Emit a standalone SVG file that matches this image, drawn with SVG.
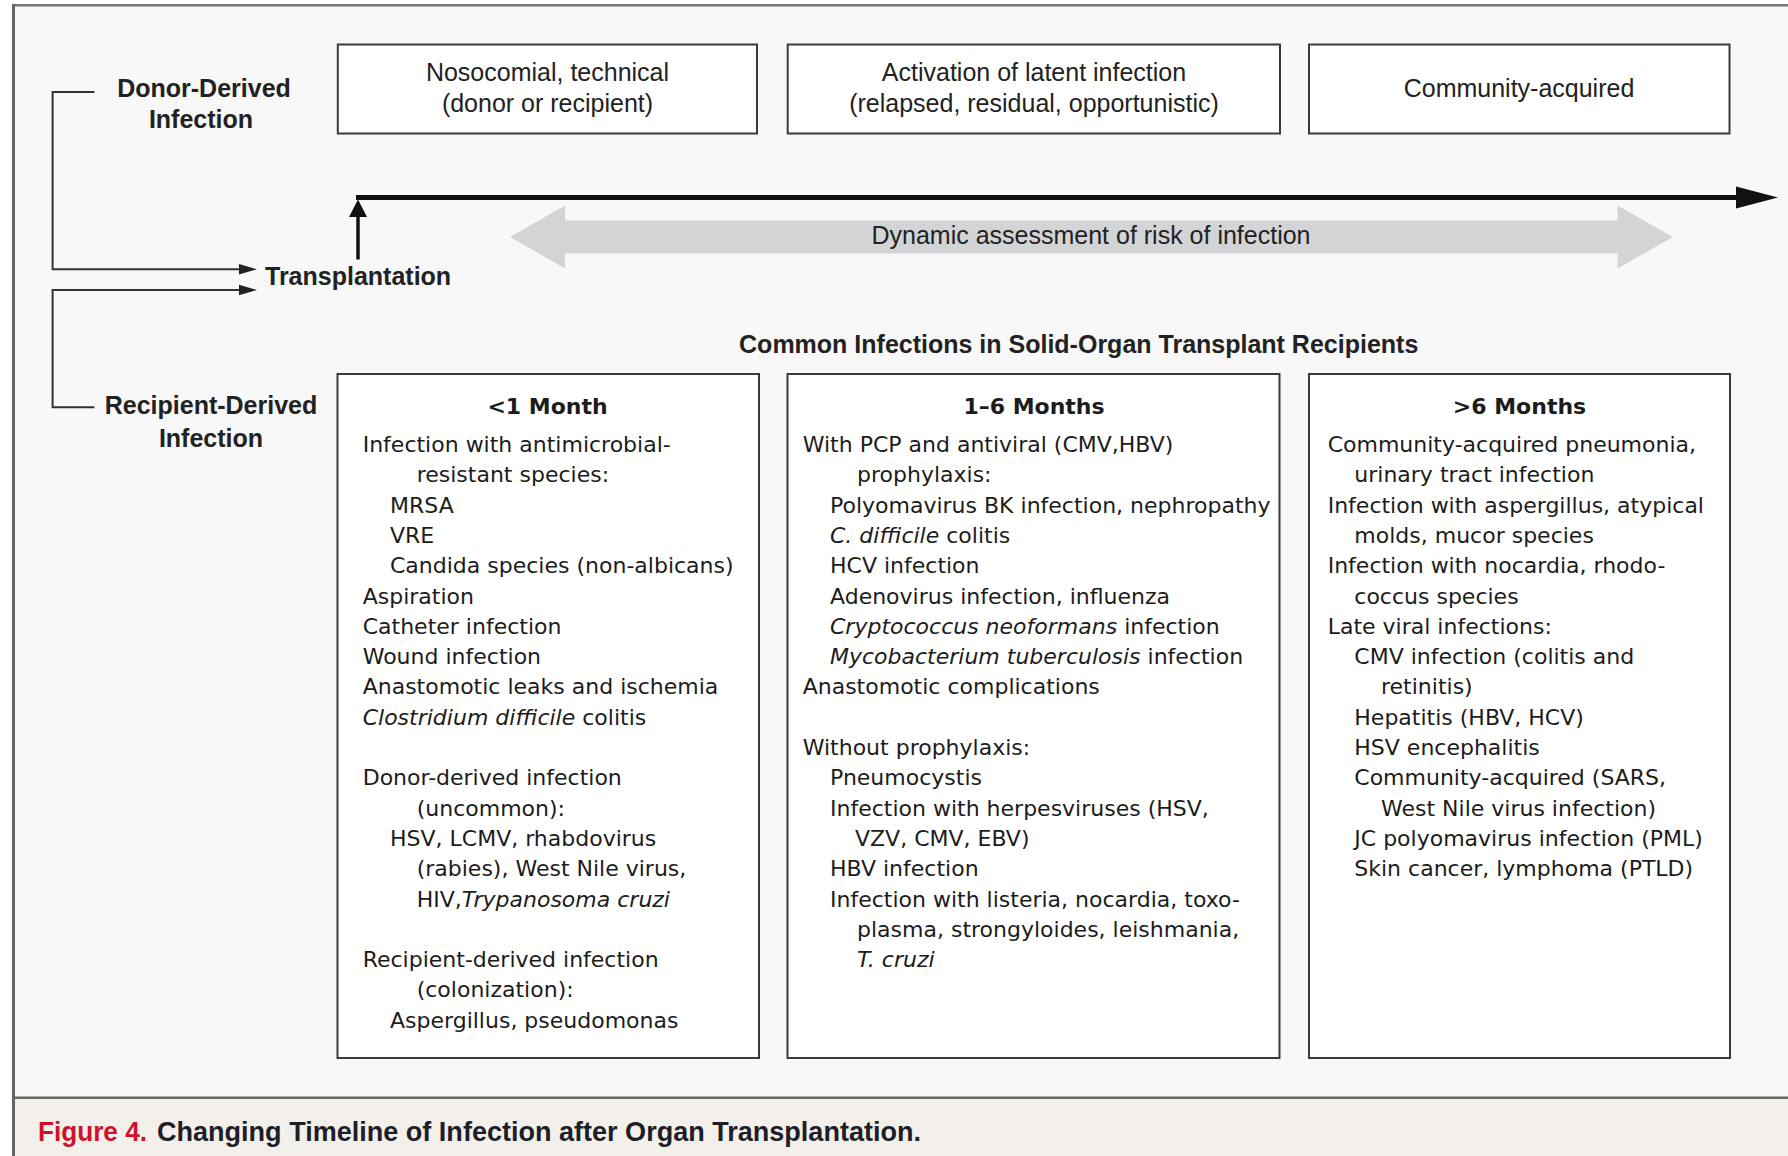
<svg xmlns="http://www.w3.org/2000/svg" width="1788" height="1156" viewBox="0 0 1788 1156">
<style>
.box{fill:#ffffff;stroke:#3a3a3a;stroke-width:2}
.lbl{font-family:"Liberation Sans",Arial,sans-serif;font-size:25px;fill:#222}
.bl{font-family:"Liberation Sans",Arial,sans-serif;font-size:25px;font-weight:bold;fill:#222}
.hd{font-family:"DejaVu Sans",Verdana,sans-serif;font-size:22px;font-weight:bold;fill:#1c1c1c;text-anchor:middle}
.bd{font-family:"DejaVu Sans",Verdana,sans-serif;font-size:22px;fill:#1c1c1c}
.it{font-style:italic}
.mid{text-anchor:middle}
.con{fill:none;stroke:#333;stroke-width:2}
</style>
<rect x="0" y="0" width="1788" height="1156" fill="#ffffff"/>
<g id="frame">
<rect x="13.5" y="5.3" width="1780" height="1092.5" fill="#f8f8f8"/>
<rect x="13.5" y="1097.8" width="1780" height="60" fill="#f3f0eb"/>
<line x1="12" y1="5.3" x2="1788" y2="5.3" stroke="#777" stroke-width="2.5"/>
<line x1="13.5" y1="4" x2="13.5" y2="1156" stroke="#666" stroke-width="3"/>
<line x1="13.5" y1="1097.8" x2="1788" y2="1097.8" stroke="#666" stroke-width="2.5"/>
</g>
<g id="donor-label">
<text class="bl mid" x="204" y="97">Donor-Derived</text>
<text class="bl mid" x="201" y="128">Infection</text>
</g>
<g id="recipient-label">
<text class="bl mid" x="211" y="414">Recipient-Derived</text>
<text class="bl mid" x="211" y="446.5">Infection</text>
</g>
<g id="transplantation">
<text class="bl" x="265" y="285">Transplantation</text>
</g>
<g id="phase-nosocomial">
<rect class="box" x="337.8" y="44.5" width="419.2" height="89"/>
<text class="lbl mid" x="547.5" y="81">Nosocomial, technical</text>
<text class="lbl mid" x="547.5" y="112">(donor or recipient)</text>
</g>
<g id="phase-latent">
<rect class="box" x="787.7" y="44.5" width="492.3" height="89"/>
<text class="lbl mid" x="1034" y="81">Activation of latent infection</text>
<text class="lbl mid" x="1034" y="112">(relapsed, residual, opportunistic)</text>
</g>
<g id="phase-community">
<rect class="box" x="1309" y="44.5" width="420.5" height="89"/>
<text class="lbl mid" x="1519" y="97">Community-acquired</text>
</g>
<g id="risk-arrow">
<polygon points="510,237 565,205.5 565,220.5 1617.5,220.5 1617.5,205.5 1673,237 1617.5,268.5 1617.5,253.5 565,253.5 565,268.5" fill="#d3d4d6"/>
<text class="lbl mid" x="1091" y="244">Dynamic assessment of risk of infection</text>
</g>
<g id="section-title">
<text class="bl mid" x="1078.7" y="353">Common Infections in Solid-Organ Transplant Recipients</text>
</g>
<g id="connectors">
<path class="con" d="M94.4 92 H52.6 V269.3 H242"/>
<polygon points="239,264 257,269.3 239,274.6" fill="#222"/>
<path class="con" d="M94.4 407.3 H52.6 V290 H242"/>
<polygon points="239,284.7 257,290 239,295.3" fill="#222"/>
<line x1="358" y1="259.5" x2="358" y2="214" stroke="#111" stroke-width="3.5"/>
<polygon points="349,217 358,199.5 367,217" fill="#111"/>
<line x1="356" y1="197.5" x2="1740" y2="197.5" stroke="#111" stroke-width="5"/>
<polygon points="1736,186.5 1778,197.5 1736,208.5" fill="#111"/>
</g>
<g id="period-1">
<rect class="box" x="337.5" y="374" width="421.5" height="684"/>
<text class="hd" x="547.5" y="414">&lt;1 Month</text>
<text class="bd" x="362.7" y="452">Infection with antimicrobial-</text>
<text class="bd" x="416.7" y="482.3">resistant species:</text>
<text class="bd" x="390" y="512.6">MRSA</text>
<text class="bd" x="390" y="542.9">VRE</text>
<text class="bd" x="390" y="573.2">Candida species (non-albicans)</text>
<text class="bd" x="362.7" y="603.5">Aspiration</text>
<text class="bd" x="362.7" y="633.8">Catheter infection</text>
<text class="bd" x="362.7" y="664.1">Wound infection</text>
<text class="bd" x="362.7" y="694.4">Anastomotic leaks and ischemia</text>
<text class="bd" x="362.7" y="724.7"><tspan class="it">Clostridium difficile</tspan> colitis</text>
<text class="bd" x="362.7" y="785.3">Donor-derived infection</text>
<text class="bd" x="416.7" y="815.6">(uncommon):</text>
<text class="bd" x="390" y="845.9">HSV, LCMV, rhabdovirus</text>
<text class="bd" x="416.7" y="876.2">(rabies), West Nile virus,</text>
<text class="bd" x="416.7" y="906.5">HIV,<tspan class="it">Trypanosoma cruzi</tspan></text>
<text class="bd" x="362.7" y="967.1">Recipient-derived infection</text>
<text class="bd" x="416.7" y="997.4">(colonization):</text>
<text class="bd" x="390" y="1027.7">Aspergillus, pseudomonas</text>
</g>
<g id="period-2">
<rect class="box" x="787.5" y="374" width="492" height="684"/>
<text class="hd" x="1034" y="414">1–6 Months</text>
<text class="bd" x="802.7" y="452">With PCP and antiviral (CMV,HBV)</text>
<text class="bd" x="857" y="482.3">prophylaxis:</text>
<text class="bd" x="830" y="512.6">Polyomavirus BK infection, nephropathy</text>
<text class="bd" x="830" y="542.9"><tspan class="it">C. difficile</tspan> colitis</text>
<text class="bd" x="830" y="573.2">HCV infection</text>
<text class="bd" x="830" y="603.5">Adenovirus infection, influenza</text>
<text class="bd" x="830" y="633.8"><tspan class="it">Cryptococcus neoformans</tspan> infection</text>
<text class="bd" x="830" y="664.1"><tspan class="it">Mycobacterium tuberculosis</tspan> infection</text>
<text class="bd" x="802.7" y="694.4">Anastomotic complications</text>
<text class="bd" x="802.7" y="755">Without prophylaxis:</text>
<text class="bd" x="830" y="785.3">Pneumocystis</text>
<text class="bd" x="830" y="815.6">Infection with herpesviruses (HSV,</text>
<text class="bd" x="855" y="845.9">VZV, CMV, EBV)</text>
<text class="bd" x="830" y="876.2">HBV infection</text>
<text class="bd" x="830" y="906.5">Infection with listeria, nocardia, toxo-</text>
<text class="bd" x="857" y="936.8">plasma, strongyloides, leishmania,</text>
<text class="bd" x="857" y="967.1"><tspan class="it">T. cruzi</tspan></text>
</g>
<g id="period-3">
<rect class="box" x="1309" y="374" width="421" height="684"/>
<text class="hd" x="1519.5" y="414">&gt;6 Months</text>
<text class="bd" x="1327.7" y="452">Community-acquired pneumonia,</text>
<text class="bd" x="1354.3" y="482.3">urinary tract infection</text>
<text class="bd" x="1327.7" y="512.6">Infection with aspergillus, atypical</text>
<text class="bd" x="1354.3" y="542.9">molds, mucor species</text>
<text class="bd" x="1327.7" y="573.2">Infection with nocardia, rhodo-</text>
<text class="bd" x="1354.3" y="603.5">coccus species</text>
<text class="bd" x="1327.7" y="633.8">Late viral infections:</text>
<text class="bd" x="1354.3" y="664.1">CMV infection (colitis and</text>
<text class="bd" x="1381" y="694.4">retinitis)</text>
<text class="bd" x="1354.3" y="724.7">Hepatitis (HBV, HCV)</text>
<text class="bd" x="1354.3" y="755">HSV encephalitis</text>
<text class="bd" x="1354.3" y="785.3">Community-acquired (SARS,</text>
<text class="bd" x="1381" y="815.6">West Nile virus infection)</text>
<text class="bd" x="1354.3" y="845.9">JC polyomavirus infection (PML)</text>
<text class="bd" x="1354.3" y="876.2">Skin cancer, lymphoma (PTLD)</text>
</g>
<g id="caption">
<text x="38" y="1141" font-family="Liberation Sans, Arial, sans-serif" font-size="28" font-weight="bold" fill="#d0112b" textLength="109" lengthAdjust="spacingAndGlyphs">Figure 4.</text>
<text x="157" y="1141" font-family="Liberation Sans, Arial, sans-serif" font-size="28" font-weight="bold" fill="#1e1e28" textLength="764" lengthAdjust="spacingAndGlyphs">Changing Timeline of Infection after Organ Transplantation.</text>
</g>
</svg>
